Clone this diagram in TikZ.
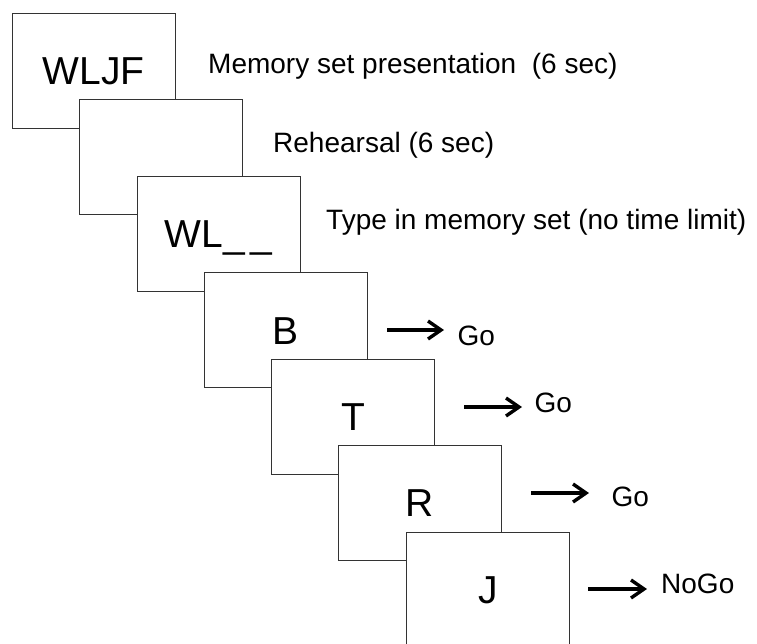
\documentclass[tikz,border=0pt]{standalone}
\usepackage{fontspec}
\setmainfont{Liberation Sans}
\usetikzlibrary{arrows.meta}
\begin{document}
\begin{tikzpicture}[x=1pt,y=-1pt,
  card/.style={draw=black!80,line width=1pt,fill=white,inner sep=0pt,outer sep=0pt,
    minimum width=163pt,minimum height=115pt,font=\fontsize{39}{39}\selectfont,
    text height=28pt,text depth=0pt},
  lbl/.style={inner sep=0pt,anchor=base west,font=\fontsize{28}{28}\selectfont},
  arr/.style={line width=3.4pt,-{Straight Barb[length=13pt,width=18pt]}}]
\useasboundingbox (0,0) rectangle (757,643);
\node[card] (c1) at (93.5,70.5) {WLJF};
\node[card] (c2) at (160.5,156.5) {};
\node[card] (c3) at (218.5,233.5) {WL\_\kern6pt\_};
\node[card] (c4) at (285.5,330) {B};
\node[card] (c5) at (353,416.5) {T};
\node[card] (c6) at (420,502.5) {R};
\node[card] (c7) at (488,589.5) {J};
\node[lbl] (l1) at (208,73) {Memory set presentation\ \ (6 sec)};
\node[lbl] (l2) at (273,152) {Rehearsal (6 sec)};
\node[lbl] (l3) at (326,229) {Type in memory set (no time limit)};
\node[lbl] (g1) at (457.5,345) {Go};
\node[lbl] (g2) at (534.5,412) {Go};
\node[lbl] (g3) at (611.5,506) {Go};
\node[lbl] (g4) at (661,593) {NoGo};
\coordinate (a1s) at (387,330); \coordinate (a1e) at (444,330);
\coordinate (a2s) at (464,407); \coordinate (a2e) at (522,407);
\coordinate (a3s) at (531,493); \coordinate (a3e) at (589,493);
\coordinate (a4s) at (588,589); \coordinate (a4e) at (647,589);
\draw[arr] (a1s) -- (a1e);
\draw[arr] (a2s) -- (a2e);
\draw[arr] (a3s) -- (a3e);
\draw[arr] (a4s) -- (a4e);
\end{tikzpicture}
\end{document}
